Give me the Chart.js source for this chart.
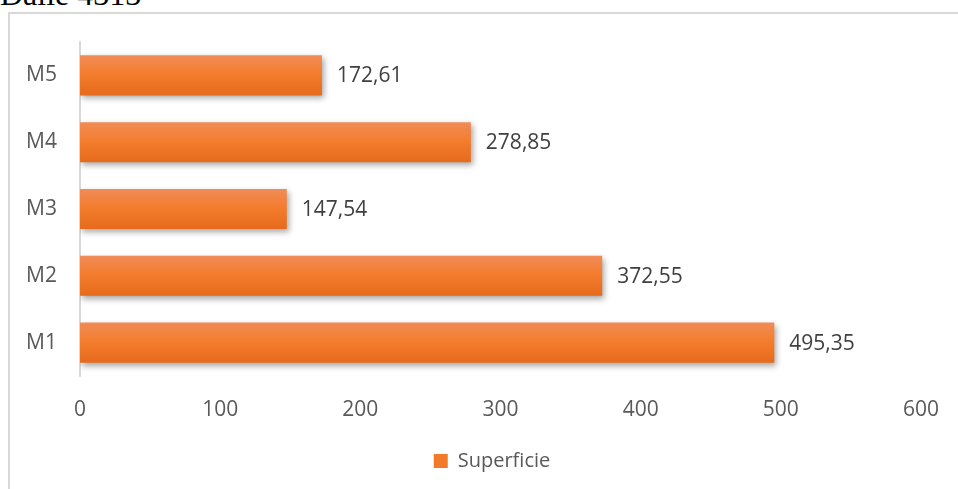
<!DOCTYPE html>
<html>
<head>
<meta charset="utf-8">
<script src="https://cdn.jsdelivr.net/npm/chart.js@4.4.0/dist/chart.umd.min.js"></script>
<style>
  html, body { margin: 0; padding: 0; background: #fff; overflow: hidden; }
  body { width: 958px; height: 489px; position: relative; }
  #title {
    position: absolute; left: 0; top: -22px;
    font-family: "Liberation Serif", "Times New Roman", serif;
    font-size: 32px; line-height: 32px; color: #000; white-space: nowrap;
  }
  #box {
    position: absolute; left: 8px; top: 12px;
    width: 980px; height: 490px;
    border: 2px solid #d9d9d9;
  }
  #wrap { position: absolute; left: 0; top: 1px; width: 964px; height: 474px; }
</style>
</head>
<body>
<div id="title">Dalle 4313</div>
<div id="box">
  <div id="wrap"><canvas id="chart"></canvas></div>
</div>
<script>
const categories = ["M1", "M2", "M3", "M4", "M5"];
const superficie = [495.35, 372.55, 147.54, 278.85, 172.61];
const xTicks = [0, 100, 200, 300, 400, 500, 600];

const fontFamily = "'Open Sans', 'DejaVu Sans', sans-serif";

function barGradient(context) {
    const chart = context.chart;
    const y = chart.scales.y;
    if (!y || context.dataIndex === undefined) return "#F27B2A";
    const center = y.getPixelForValue(context.dataIndex);
    const half = (y.height / categories.length) * 0.3;
    const g = chart.ctx.createLinearGradient(0, center - half, 0, center + half);
    g.addColorStop(0, "#F08C58");
    g.addColorStop(0.45, "#F47D2E");
    g.addColorStop(1, "#E66A1C");
    return g;
}

const shadowPlugin = {
    id: "barShadow",
    beforeDatasetsDraw(chart) {
        const ctx = chart.ctx;
        ctx.save();
        ctx.shadowColor = "rgba(0,0,0,0.35)";
        ctx.shadowBlur = 6;
        ctx.shadowOffsetX = 2;
        ctx.shadowOffsetY = 3;
    },
    afterDatasetsDraw(chart) {
        chart.ctx.restore();
    }
};

const valueLabels = {
    id: "valueLabels",
    afterDatasetsDraw(chart) {
        const ctx = chart.ctx;
        const meta = chart.getDatasetMeta(0);
        ctx.save();
        ctx.font = "21px " + fontFamily;
        ctx.fillStyle = "#404040";
        ctx.textAlign = "left";
        ctx.textBaseline = "middle";
        meta.data.forEach((bar, i) => {
            const txt = superficie[i].toFixed(2).replace(".", ",");
            ctx.fillText(txt, bar.x + 15, bar.y + 1);
        });
        ctx.restore();
    }
};

// the legend is centred on the whole frame in the original, not on the padded area
const legendShift = {
    id: "legendShift",
    afterLayout(chart) {
        if (chart.legend) chart.legend.left += 53;
    }
};

const ctx = document.getElementById("chart").getContext("2d");

new Chart(ctx, {
    type: "bar",
    data: {
        labels: categories,
        datasets: [{
            label: "Superficie",
            data: superficie,
            backgroundColor: barGradient,
            borderWidth: 0,
            barPercentage: 0.6,
            categoryPercentage: 1
        }]
    },
    options: {
        indexAxis: "y",
        responsive: true,
        maintainAspectRatio: false,
        animation: false,
        layout: {
            padding: { top: 27, left: 0, right: 53, bottom: 8 }
        },
        scales: {
            x: {
                min: 0,
                max: 600,
                afterBuildTicks(scale) {
                    scale.ticks = xTicks.map(v => ({ value: v }));
                },
                afterFit(scale) {
                    scale.height = 65;
                },
                grid: { display: false, drawTicks: false },
                border: { display: false },
                ticks: {
                    padding: 21,
                    color: "#595959",
                    font: { family: fontFamily, size: 21 }
                }
            },
            y: {
                reverse: true,
                afterFit(scale) {
                    scale.width = 70;
                },
                grid: { display: false, drawTicks: true, tickLength: 23 },
                border: { display: true, color: "#d9d9d9", width: 2 },
                ticks: {
                    padding: 0,
                    color: "#595959",
                    font: { family: fontFamily, size: 21 }
                }
            }
        },
        plugins: {
            legend: {
                position: "bottom",
                labels: {
                    boxWidth: 14,
                    boxHeight: 14,
                    color: "#595959",
                    font: { family: fontFamily, size: 20 },
                    generateLabels() {
                        return [{
                            text: "Superficie",
                            fillStyle: "#F27B2A",
                            strokeStyle: "#F27B2A",
                            lineWidth: 0,
                            fontColor: "#595959",
                            datasetIndex: 0
                        }];
                    }
                }
            },
            tooltip: { enabled: false }
        }
    },
    plugins: [shadowPlugin, valueLabels, legendShift]
});
</script>
</body>
</html>
